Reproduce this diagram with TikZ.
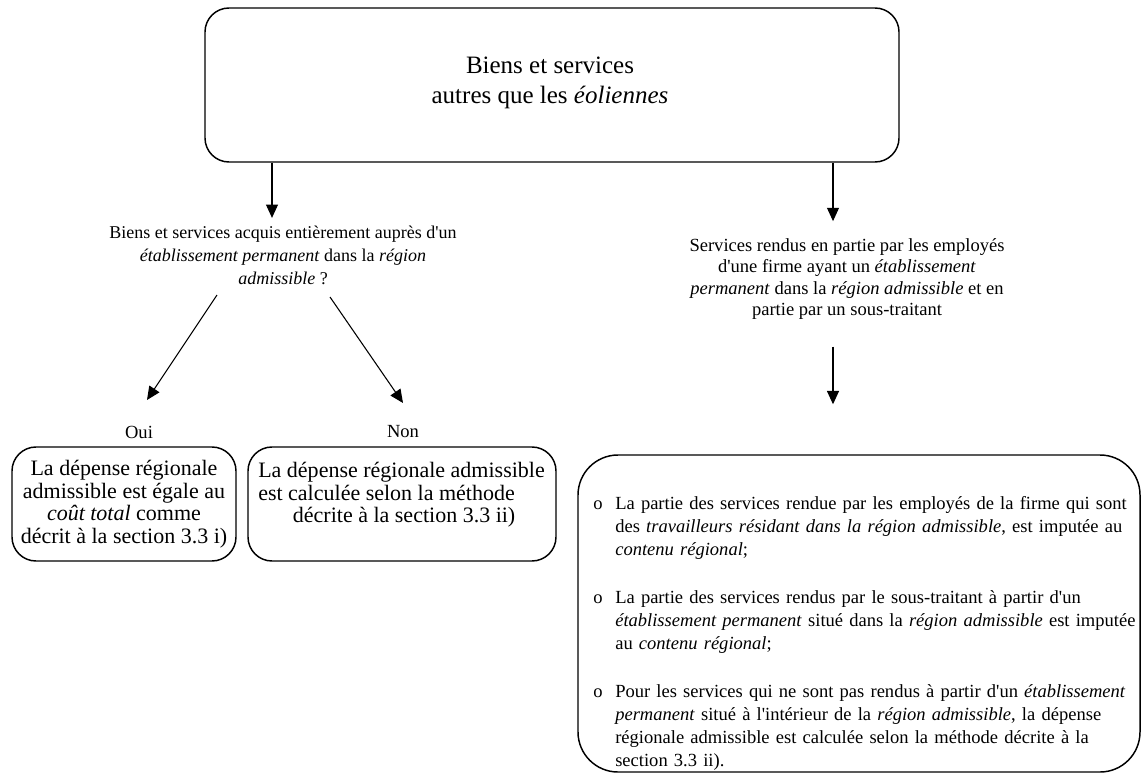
\documentclass[tikz,border=0pt]{standalone}
\usepackage{fontspec}
\setmainfont{Liberation Serif}
\usetikzlibrary{arrows.meta}
\newcommand{\apo}{\textquotesingle}
\begin{document}
\begin{tikzpicture}[x=0.75pt,y=-0.75pt,
  box/.style={draw, line width=1.1pt, rounded corners=18pt, inner sep=0pt},
  bigbox/.style={draw, line width=1.1pt, rounded corners=30pt, inner sep=0pt},
  arr/.style={line width=0.8pt, -{Triangle[length=10pt,width=9pt]}},
  ttl/.style={font=\fontsize{18.75pt}{22.5pt}\selectfont, align=center, inner sep=0pt},
  qtxt/.style={font=\fontsize{13.5pt}{17.25pt}\selectfont, align=center, inner sep=0pt},
  stxt/.style={font=\fontsize{13.9pt}{16.1pt}\selectfont, align=center, inner sep=0pt},
  lbl/.style={font=\fontsize{13.9pt}{16pt}\selectfont, inner sep=0pt},
  btxt/.style={font=\fontsize{16.5pt}{16.9pt}\selectfont, inner sep=0pt},
  bul/.style={font=\fontsize{13.9pt}{17.25pt}\selectfont, text width=410pt, align=left, inner sep=0pt}
]
\fill[white] (0,0) rectangle (1144,774);
\useasboundingbox (0,0) rectangle (1144,774);

% top box
\node[box, minimum width=520.5pt, minimum height=115.5pt] (top) at (552,85) {};
\node[ttl] (toptitle) at (550,83) {Biens et services\\autres que les \emph{éoliennes}};

\coordinate (c1) at (272,0);
\coordinate (c2) at (833,0);

% question
\node[qtxt] (q) at (283,255) {Biens et services acquis entièrement auprès d\apo un\\\emph{établissement permanent} dans la \emph{région}\\\emph{admissible} ?};
\draw[arr, shorten >=5.6pt] (top.south -| c1) -- (q.north -| c1);

% right text
\node[stxt] (s) at (847,279) {Services rendus en partie par les employés\\d\apo une firme ayant un \emph{établissement}\\\emph{permanent} dans la \emph{région admissible} et en\\partie par un sous-traitant};
\draw[arr, shorten >=12.75pt] (top.south -| c2) -- (s.north -| c2);

% Oui / Non
\node[lbl] (oui) at (139,432) {Oui};
\node[lbl] (non) at (403,432) {Non};
\coordinate (d1a) at (217,295);
\coordinate (d1b) at (147,400);
\coordinate (d2a) at (330,297);
\coordinate (d2b) at (403,403);
\draw[arr] (d1a) -- (d1b);
\draw[arr] (d2a) -- (d2b);

% left boxes
\node[box, btxt, minimum width=168pt, minimum height=85.5pt, align=center] (A) at (124,504)
  {La dépense régionale\\admissible est égale au\\\emph{coût total} comme\\décrit à la section 3.3 i)};
\node[box, minimum width=231pt, minimum height=85.5pt] (B) at (402,504) {};
\node[btxt, align=left, anchor=west] (Btxt) at (258,495)
  {La dépense régionale admissible\\est calculée selon la méthode\\\hspace*{26pt}décrite à la section 3.3 ii)};

% right big box
\node[bigbox, minimum width=421.5pt, minimum height=237.75pt] (R) at (859,613.5) {};
\draw[arr, shorten <=20pt, shorten >=37.5pt] (s.south -| c2) -- (R.north -| c2);
\node[bul, anchor=north west] (Rtxt) at (593,496) {%
{\hangindent=16.5pt\hangafter=1\noindent\makebox[16.5pt][l]{o}La partie des services rendue par les employés de la firme qui sont\hfil\break des \emph{travailleurs résidant dans la région admissible}, est imputée au\hfil\break \emph{contenu régional};\par}
\vspace{18.75pt}
{\hangindent=16.5pt\hangafter=1\noindent\makebox[16.5pt][l]{o}La partie des services rendus par le sous-traitant à partir d\apo un\hfil\break \emph{établissement permanent} situé dans la \emph{région admissible} est imputée\hfil\break au \emph{contenu régional};\par}
\vspace{18.75pt}
{\hangindent=16.5pt\hangafter=1\noindent\makebox[16.5pt][l]{o}Pour les services qui ne sont pas rendus à partir d\apo un \emph{établissement}\hfil\break \emph{permanent} situé à l\apo intérieur de la \emph{région admissible}, la dépense\hfil\break régionale admissible est calculée selon la méthode décrite à la\hfil\break section 3.3 ii).\par}};
\end{tikzpicture}
\end{document}
